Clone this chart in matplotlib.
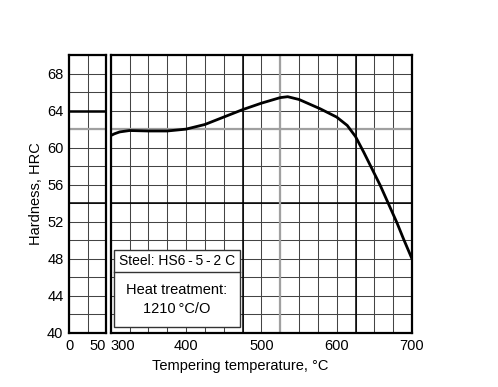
import numpy as np
import matplotlib
matplotlib.use("Agg")
import matplotlib.pyplot as plt
from matplotlib.patches import Rectangle

plt.rcParams['font.family'] = ['Liberation Sans', 'DejaVu Sans']

# as-quenched hardness (left panel)
quench_x = [0, 50]
quench_h = [64.0, 64.0]

# tempering curve (right panel)
temp_c = [300, 305, 312, 325, 350, 375, 400, 425, 450, 475, 500, 525, 535, 550,
          578, 600, 614, 625, 636, 647, 658, 669, 680, 689, 700]
hrc = [61.3, 61.5, 61.7, 61.85, 61.8, 61.8, 62.0, 62.5, 63.3, 64.1, 64.8, 65.4, 65.5, 65.2,
       64.2, 63.3, 62.4, 61.2, 59.5, 57.7, 55.9, 53.9, 51.9, 50.1, 48.0]

y_ticks = [40, 44, 48, 52, 56, 60, 64, 68]
left_ticks = [0, 50]
right_ticks = [300, 400, 500, 600, 700]

grid_c = '#444444'
W, H = 498, 387
fig = plt.figure(figsize=(W / 100, H / 100), dpi=100)
ax1 = fig.add_axes([69 / W, (H - 333) / H, 37 / W, 278 / H])
ax2 = fig.add_axes([110.7 / W, (H - 333) / H, 301.3 / W, 278 / H])

for ax in (ax1, ax2):
    ax.set_ylim(40, 70)
    ax.set_yticks(np.arange(40, 71, 2), minor=True)
    ax.set_yticks(y_ticks)
    ax.grid(True, which='both', color=grid_c, lw=0.75)
    ax.set_axisbelow(True)
    ax.tick_params(which='both', length=0, labelsize=10.5, pad=4)
    for s in ax.spines.values():
        s.set_linewidth(1.6)
    ax.axhline(54, color='black', lw=1.1, zorder=1)
    ax.axhline(62, color='#a0a0a0', lw=1.6, zorder=1)

# left panel
ax1.set_xlim(0, 50)
ax1.set_xticks([25], minor=True)
ax1.set_xticks(left_ticks)
lbl = ax1.set_xticklabels([str(t) for t in left_ticks])
lbl[0].set_ha('center')
lbl[1].set_ha('right')
ax1.plot(quench_x, quench_h, color='black', lw=1.8, zorder=3)
ax1.set_ylabel('Hardness, HRC', fontsize=10.5, labelpad=3)

# right panel
ax2.set_xlim(300, 700)
ax2.set_xticks(np.arange(300, 701, 25), minor=True)
ax2.set_xticks(right_ticks)
lbl = ax2.set_xticklabels([str(t) for t in right_ticks])
lbl[0].set_ha('left')
lbl[-1].set_ha('center')
ax2.set_yticklabels([])
ax2.axvline(475, color='black', lw=1.1, zorder=1)
ax2.axvline(625, color='black', lw=1.1, zorder=1)
ax2.axvline(525, color='#a0a0a0', lw=1.6, zorder=1)
ax2.plot(temp_c, hrc, color='black', lw=2.0, solid_capstyle='butt', zorder=3)
ax2.set_xlabel('Tempering temperature, °C', fontsize=10.5)
ax2.xaxis.set_label_coords(0.43, -0.095)

# info box
box_c = '#333333'
ax2.add_patch(Rectangle((0.011, 0.0216), 0.418, 0.277, transform=ax2.transAxes,
                        facecolor='white', edgecolor=box_c, lw=1.0, zorder=4))
ax2.plot([0.011, 0.429], [0.2194, 0.2194], transform=ax2.transAxes,
         color=box_c, lw=1.0, zorder=5)
ax2.text(0.22, 0.259, 'Steel: HS6\u2009-\u20095\u2009-\u20092 C', transform=ax2.transAxes,
         ha='center', va='center', fontsize=10, zorder=6)
ax2.text(0.22, 0.155, 'Heat treatment:', transform=ax2.transAxes,
         ha='center', va='center', fontsize=10.5, zorder=6)
ax2.text(0.22, 0.086, '1210\u2009°C/O', transform=ax2.transAxes,
         ha='center', va='center', fontsize=10.5, zorder=6)

fig.savefig('out.png', dpi=100)
